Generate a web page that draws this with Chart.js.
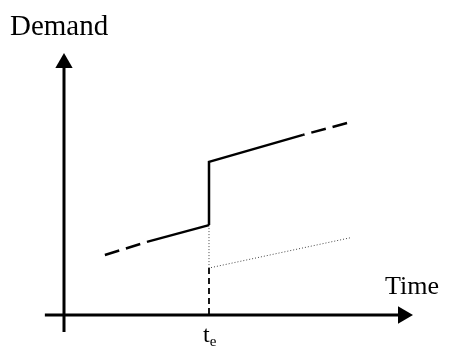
<!DOCTYPE html>
<html>
<head>
<meta charset="utf-8">
<script src="https://cdn.jsdelivr.net/npm/chart.js@4/dist/chart.umd.min.js"></script>
<style>
  html, body { margin: 0; padding: 0; background: #fff; }
  #wrap { width: 449px; height: 352px; }
</style>
</head>
<body>
<div id="wrap"><canvas id="chart" width="449" height="352"></canvas></div>
<script>
// Data (time units, demand units)
const eventTime = 5;
const eventLabel = ['t', 'e'];
const axisTitles = { x: 'Time', y: 'Demand' };

// trend before the event: dashed lead-in, then solid
const preDashed = [{ x: 1.41, y: 2.07 }, { x: 2.86, y: 2.52 }];
const preSolid = [{ x: 2.86, y: 2.52 }, { x: 5, y: 3.10 }];
// the jump at the event and the raised trend after it
const jumpSolid = [{ x: 5, y: 3.10 }, { x: 5, y: 5.28 }, { x: 8.24, y: 6.21 }];
const postDashed = [{ x: 9.76, y: 6.62 }, { x: 8.24, y: 6.21 }];
// the old trend carried on (dotted) and the drop-line to the time axis
const baselineDotted = [{ x: 5, y: 3.10 }, { x: 5, y: 1.62 }, { x: 9.86, y: 2.66 }];
const dropLine = [{ x: 5, y: 1.62 }, { x: 5, y: 0 }];

// axes, drawn as data so they share the scales
const timeAxis = [{ x: -0.66, y: 0 }, { x: 11.69, y: 0 }];
const demandAxis = [{ x: 0, y: -0.59 }, { x: 0, y: 8.69 }];

const serif = '"Liberation Serif", "Times New Roman", serif';

const line = (data, opts) => Object.assign({
    type: 'line',
    data: data,
    borderColor: '#000',
    borderWidth: 2.5,
    pointRadius: 0,
    fill: false,
    tension: 0
}, opts);

// Labels placed against the scales
const labelsPlugin = {
    id: 'labels',
    afterDraw(chart) {
        const { ctx, scales } = chart;
        const x = scales.x, y = scales.y;
        const x0 = x.getPixelForValue(0), y0 = y.getPixelForValue(0);
        ctx.save();
        ctx.fillStyle = '#000';
        ctx.textBaseline = 'alphabetic';
        ctx.textAlign = 'left';

        ctx.font = '29px ' + serif;
        ctx.fillText(axisTitles.y, x0 - 54, y0 - 280);
        ctx.font = '26px ' + serif;
        ctx.fillText(axisTitles.x, x.getPixelForValue(11.07), y0 - 21);

        const tx = x.getPixelForValue(eventTime);
        const ty = y0 + 27;
        ctx.font = '24px ' + serif;
        ctx.fillText(eventLabel[0], tx - 6, ty);
        const tw = ctx.measureText(eventLabel[0]).width;
        ctx.font = '15px ' + serif;
        ctx.fillText(eventLabel[1], tx - 6 + tw, ty + 4);
        ctx.restore();
    }
};

new Chart(document.getElementById('chart'), {
    type: 'scatter',
    data: {
        datasets: [
            line(timeAxis, { borderWidth: 3, pointStyle: 'triangle', pointRotation: 90,
                pointRadius: [0, 10], pointBackgroundColor: '#000', pointBorderWidth: 0 }),
            line(demandAxis, { borderWidth: 3, pointStyle: 'triangle', pointRotation: 0,
                pointRadius: [0, 10], pointBackgroundColor: '#000', pointBorderWidth: 0 }),
            line(preDashed, { borderDash: [15, 7] }),
            line(preSolid),
            line(jumpSolid),
            line(postDashed, { borderDash: [15, 7] }),
            line(baselineDotted, { borderColor: '#444', borderWidth: 1, borderDash: [1, 2] }),
            line(dropLine, { borderWidth: 1.8, borderDash: [6, 4] })
        ]
    },
    options: {
        responsive: false,
        animation: false,
        devicePixelRatio: 1,
        layout: { padding: 0, autoPadding: false },
        plugins: { legend: { display: false }, tooltip: { enabled: false } },
        scales: {
            x: { type: 'linear', display: false, min: -2.207, max: 13.276 },
            y: { type: 'linear', display: false, min: -1.276, max: 10.862 }
        }
    },
    plugins: [labelsPlugin]
});
</script>
</body>
</html>
